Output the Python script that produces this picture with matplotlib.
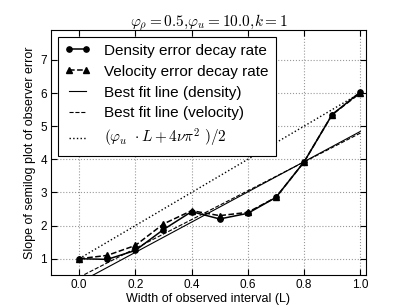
import numpy as np
import matplotlib
matplotlib.use("Agg")
import matplotlib.pyplot as plt

plt.rcParams['font.family'] = ['Liberation Sans', 'DejaVu Sans']
plt.rcParams['mathtext.fontset'] = 'cm'

# data
L = [0.0, 0.1, 0.2, 0.3, 0.4, 0.5, 0.6, 0.7, 0.8, 0.9, 1.0]
density_rate = [1.0, 0.98, 1.25, 1.88, 2.42, 2.2, 2.37, 2.85, 3.92, 5.35, 6.03]
velocity_rate = [1.0, 1.1, 1.4, 2.05, 2.45, 2.3, 2.4, 2.85, 3.92, 5.35, 6.0]

# best fit lines (slope, intercept)
fit_density = (4.56, 0.28)
fit_velocity = (4.35, 0.44)

phi_u = 10.0
nu = 1.0 / (2 * np.pi**2)

x = np.array(L)

fig = plt.figure(figsize=(4.07, 3.07), dpi=100)
ax = fig.add_axes([0.1253, 0.1033, 0.7737, 0.7987])

ax.plot(x, density_rate, 'k-o', lw=1.1, ms=3.8, label='Density error decay rate')
ax.plot(x, velocity_rate, 'k--^', lw=1.1, ms=3.8, label='Velocity error decay rate')
ax.plot(x, fit_density[0] * x + fit_density[1], 'k-', lw=0.8, label='Best fit line (density)')
ax.plot(x, fit_velocity[0] * x + fit_velocity[1], 'k--', lw=0.8, label='Best fit line (velocity)')
ax.plot(x, (phi_u * x + 4 * nu * np.pi**2) / 2, 'k:', lw=1.0,
        label=r'$(\varphi_u\ \cdot L + 4\nu\pi^2\ )/2$')

ax.set_xlim(-0.1, 1.02)
ax.set_ylim(0.5, 7.9)
ax.set_xticks([0.0, 0.2, 0.4, 0.6, 0.8, 1.0])
ax.set_yticks([1, 2, 3, 4, 5, 6, 7])
ax.grid(True, color='#999999', linestyle=':', linewidth=0.8)
ax.tick_params(direction='in', top=True, right=True, labelsize=8.5, length=4, pad=3)

ax.set_xlabel('Width of observed interval (L)', fontsize=9, labelpad=1)
ax.set_ylabel('Slope of semilog plot of observer error', fontsize=9, labelpad=3)
ax.set_title(r'$\varphi_\rho=0.5,\!\varphi_u=10.0,\!k=1$', fontsize=11, pad=3)

leg = ax.legend(loc='upper left', fontsize=11, numpoints=2, handlelength=1.7,
                fancybox=False, framealpha=1, edgecolor='black',
                borderaxespad=0.45, labelspacing=0.45, handletextpad=0.9,
                borderpad=0.45)
leg.get_frame().set_linewidth(0.8)

fig.savefig('out.png', dpi=100)
